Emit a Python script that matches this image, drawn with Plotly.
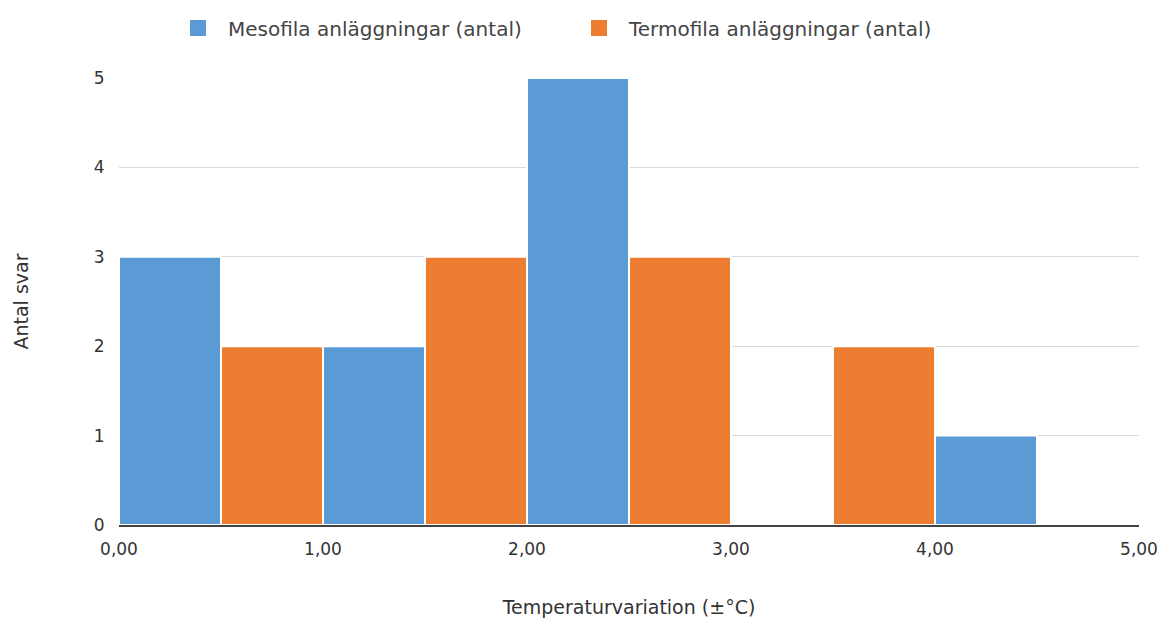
import plotly.graph_objects as go

# Histogram bins (left edges, ±°C) and counts per plant type
meso_bins = [0.0, 1.0, 2.0, 4.0]
meso_counts = [3, 2, 5, 1]
termo_bins = [0.5, 1.5, 2.5, 3.5]
termo_counts = [2, 3, 3, 2]
bin_width = 0.5

series_names = ["Mesofila anläggningar (antal)", "Termofila anläggningar (antal)"]
series_colors = ["#5B9BD5", "#ED7D31"]

x_ticks = [0, 1, 2, 3, 4, 5]
y_ticks = [0, 1, 2, 3, 4, 5]

font_family = "DejaVu Sans, Verdana, sans-serif"

fig = go.Figure()
for bins, counts, name, color in zip(
    [meso_bins, termo_bins], [meso_counts, termo_counts], series_names, series_colors
):
    fig.add_trace(go.Bar(
        name=name, x=bins, y=counts, width=bin_width, offset=0,
        marker=dict(color=color, line=dict(color="white", width=2)),
        showlegend=False,
    ))

# Legend entries with large square swatches
for name, color in zip(series_names, series_colors):
    fig.add_trace(go.Scatter(
        name=name, x=[None], y=[None], mode="markers",
        marker=dict(symbol="square", size=22, color=color),
        showlegend=True,
    ))

fig.update_layout(
    width=1163, height=619,
    margin=dict(l=119, r=24, t=78, b=94),
    paper_bgcolor="white", plot_bgcolor="white",
    separators=",.",
    barmode="overlay",
    font=dict(family=font_family, size=16, color="#333333"),
    showlegend=True,
    legend=dict(
        orientation="h", xref="container", x=168 / 1163, xanchor="left",
        y=1 - 28 / 619, yref="container", yanchor="middle",
        font=dict(size=20, color="#444444"),
        traceorder="normal", itemwidth=50, itemsizing="trace",
        entrywidth=336, entrywidthmode="pixels",
    ),
    xaxis=dict(
        range=[0, 5], tickvals=x_ticks, tickformat=".2f",
        showgrid=False, zeroline=False, automargin=False,
        showline=True, linecolor="#444444", linewidth=1.5,
        ticks="outside", ticklen=8, tickcolor="rgba(0,0,0,0)",
        tickfont=dict(size=17, color="#333333"),
        title=dict(text="Temperaturvariation (±°C)", standoff=43,
                   font=dict(size=19, color="#333333")),
    ),
    yaxis=dict(
        range=[0, 5], tickvals=y_ticks, automargin=False,
        showgrid=True, gridcolor="#D9D9D9", gridwidth=1,
        zeroline=False, showline=False,
        ticks="outside", ticklen=10, tickcolor="rgba(0,0,0,0)",
        tickfont=dict(size=17, color="#333333"),
        title=dict(text="Antal svar", standoff=60,
                   font=dict(size=19, color="#333333")),
    ),
)

fig.write_html("out.html")
